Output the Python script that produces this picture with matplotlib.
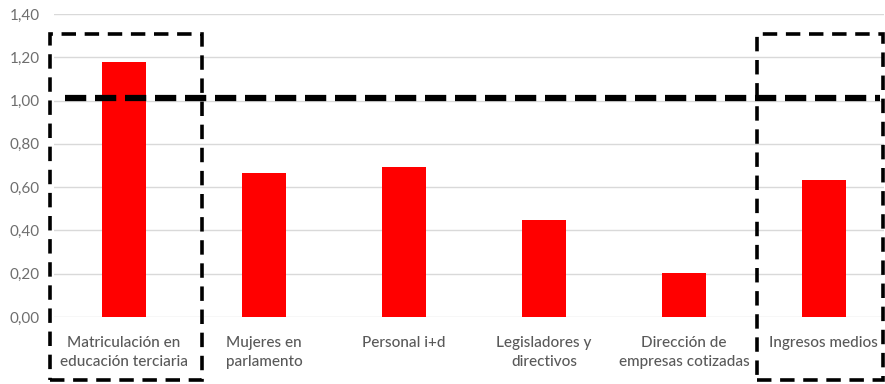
import numpy as np
import matplotlib.pyplot as plt
from matplotlib.patches import Rectangle
from matplotlib.ticker import FuncFormatter

categorias = ['Matriculación en\neducación terciaria', 'Mujeres en\nparlamento', 'Personal i+d',
              'Legisladores y\ndirectivos', 'Dirección de\nempresas cotizadas', 'Ingresos medios']
valores = [1.18, 0.665, 0.695, 0.447, 0.202, 0.632]
paridad = 1.01
y_ticks = [0.0, 0.2, 0.4, 0.6, 0.8, 1.0, 1.2, 1.4]

plt.rcParams['font.family'] = ['Lato', 'DejaVu Sans']
gris = '#595959'

fig = plt.figure(figsize=(8.85, 3.84), dpi=100)
ax = fig.add_axes([0.061, 0.1745, 0.938, 0.789])

x = np.arange(len(categorias))
ax.bar(x, valores, width=0.314, color='#ff0000', zorder=3)

ax.set_ylim(0, 1.4)
ax.set_xlim(-0.5, 5.43)
ax.set_yticks(y_ticks)
ax.yaxis.set_major_formatter(FuncFormatter(lambda v, p: '{:.2f}'.format(v).replace('.', ',')))
ax.set_xticks(x)
ax.set_xticklabels(categorias, color=gris, fontsize=11, linespacing=1.45, fontweight='medium')
ax.tick_params(axis='y', colors='#6e6e6e', labelsize=11, length=0, pad=10)
ax.tick_params(axis='x', length=0, pad=14)
ax.grid(axis='y', color='#d9d9d9', lw=1, zorder=0)
for s in ax.spines.values():
    s.set_visible(False)

# linea de paridad
ax.plot([-0.42, 5.4], [paridad, paridad], color='black', lw=4.5, ls=(0, (3.4, 1.4)),
        clip_on=False, zorder=5)

# recuadros de los indicadores destacados
for x0, x1 in [(-0.529, 0.557), (4.521, 5.421)]:
    ax.add_patch(Rectangle((x0, -0.291), x1 - x0, 1.308 + 0.291, fill=False, ec='black',
                           lw=2.6, ls=(0, (4, 2.4)), clip_on=False, zorder=6))

fig.savefig('out.png', dpi=100)
